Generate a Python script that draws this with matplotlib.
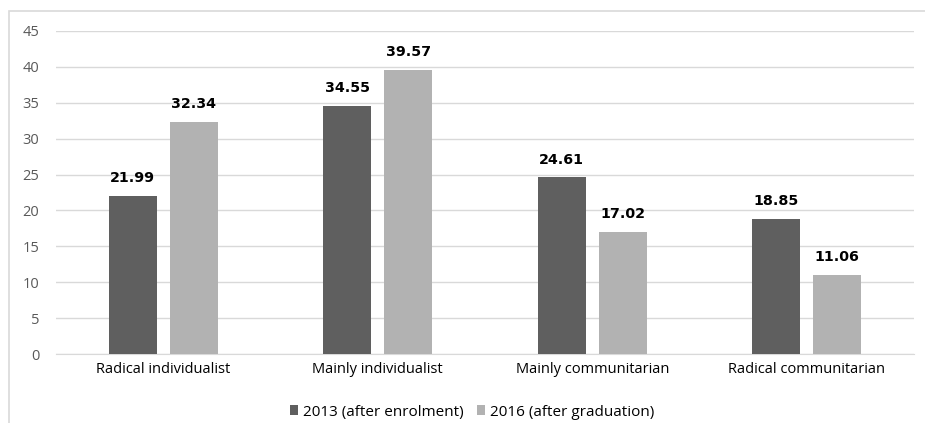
import matplotlib.pyplot as plt
import numpy as np
from matplotlib.patches import Rectangle

categories = ['Radical individualist', 'Mainly individualist',
              'Mainly communitarian', 'Radical communitarian']
series_names = ['2013 (after enrolment)', '2016 (after graduation)']
values_2013 = [21.99, 34.55, 24.61, 18.85]
values_2016 = [32.34, 39.57, 17.02, 11.06]
yticks = [0, 5, 10, 15, 20, 25, 30, 35, 40, 45]

dark = '#5f5f5f'
light = '#b2b2b2'
grid_col = '#d9d9d9'
tick_col = '#595959'
fs = 10.5

fig = plt.figure(figsize=(9.25, 4.23), dpi=100, facecolor='white')
ax = fig.add_axes([56/925, 1 - 354/423, (914 - 56)/925, (354 - 31)/423])

# chart frame, cut off at right and bottom like the source
fig.patches.append(Rectangle((9/925, -0.2), 1.2, 1 - 11/423 + 0.2,
                             transform=fig.transFigure, fill=False,
                             edgecolor=grid_col, lw=1.2))

x = np.arange(len(categories))
w = 0.224
off = 0.142
b1 = ax.bar(x - off, values_2013, w, color=dark, label=series_names[0], zorder=3)
b2 = ax.bar(x + off, values_2016, w, color=light, label=series_names[1], zorder=3)

for bars, vals in [(b1, values_2013), (b2, values_2016)]:
    for rect, v in zip(bars, vals):
        ax.text(rect.get_x() + rect.get_width()/2, v + 1.5, '{:.2f}'.format(v),
                ha='center', va='bottom', fontsize=10.3, fontweight='bold',
                family='DejaVu Sans', color='black')

ax.set_xlim(-0.5, 3.5)
ax.set_ylim(0, 45)
ax.set_yticks(yticks)
ax.set_xticks(x)
ax.set_xticklabels(categories, family='Open Sans', fontsize=fs, color='black')
ax.tick_params(axis='y', length=0, pad=12, labelsize=fs, labelcolor=tick_col)
ax.tick_params(axis='x', length=0, pad=6)
for lab in ax.get_yticklabels():
    lab.set_family('Open Sans')
ax.grid(axis='y', color=grid_col, lw=1, zorder=0)
for s in ['top', 'right', 'left']:
    ax.spines[s].set_visible(False)
ax.spines['bottom'].set_color(grid_col)

fig.legend(loc='center', bbox_to_anchor=(472/925, 1 - 412/423), ncol=2,
           frameon=False, prop={'family': 'Open Sans', 'size': 11},
           handlelength=0.55, handleheight=0.55, handletextpad=0.3,
           columnspacing=0.9, labelcolor='black')

fig.savefig('out.png', dpi=100, facecolor='white')
